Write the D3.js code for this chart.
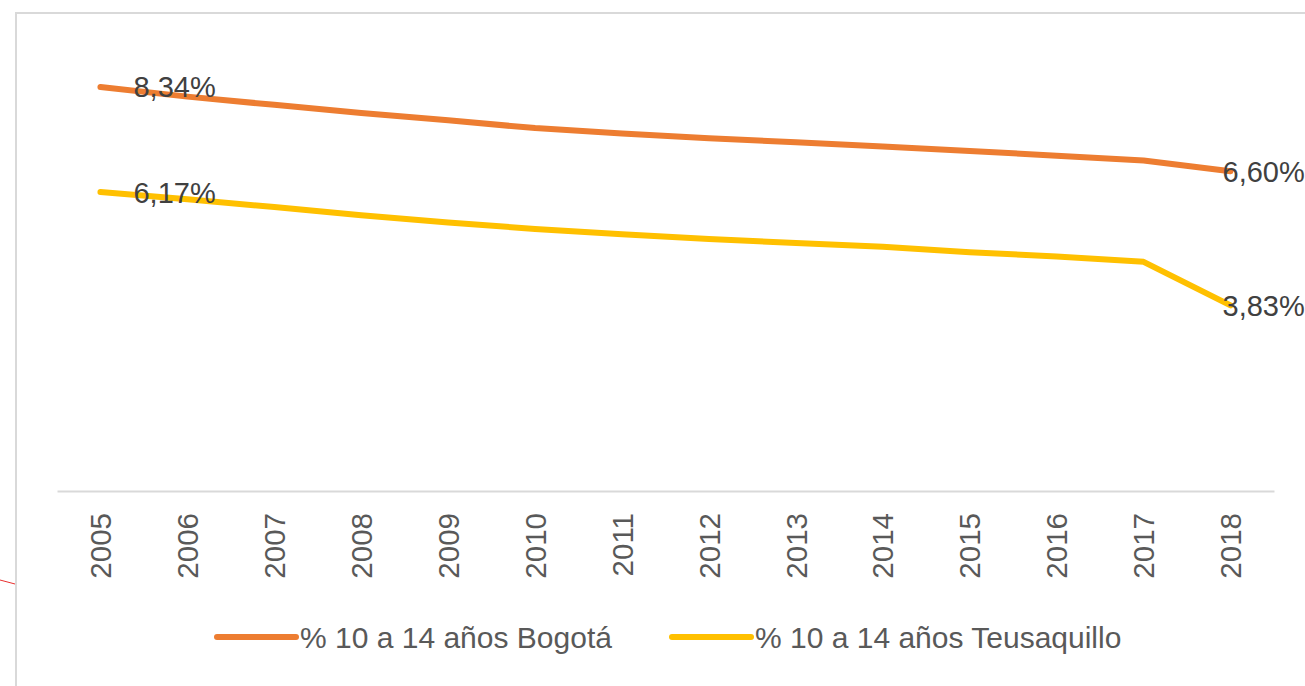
<!DOCTYPE html>
<html>
<head>
<meta charset="utf-8">
<script src="https://cdn.jsdelivr.net/npm/d3@7"></script>
<style>
  html, body { margin: 0; padding: 0; background: #ffffff; }
  svg { display: block; }
  text { font-family: "Liberation Sans", Arial, sans-serif; }
</style>
</head>
<body>
<svg id="chart" width="1305" height="686"></svg>
<script>
const years = ["2005","2006","2007","2008","2009","2010","2011","2012","2013","2014","2015","2016","2017","2018"];
const bogota = [8.34, 8.14, 7.97, 7.80, 7.65, 7.49, 7.38, 7.28, 7.20, 7.11, 7.02, 6.92, 6.82, 6.60];
const teusaquillo = [6.17, 6.02, 5.86, 5.69, 5.54, 5.41, 5.30, 5.20, 5.12, 5.04, 4.93, 4.84, 4.73, 3.83];
const seriesNames = ["% 10 a 14 años Bogotá", "% 10 a 14 años Teusaquillo"];
const seriesColors = ["#ED7D31", "#FFC000"];

const svg = d3.select("#chart");

// chart border
svg.append("rect")
  .attr("x", 16).attr("y", 13)
  .attr("width", 1320).attr("height", 700)
  .attr("fill", "none")
  .attr("stroke", "#d9d9d9")
  .attr("stroke-width", 2);

// small red stroke at left edge
svg.append("line")
  .attr("x1", 0).attr("y1", 580).attr("x2", 15).attr("y2", 584)
  .attr("stroke", "#e8302f").attr("stroke-width", 1);

const x = d3.scaleBand().domain(years).range([57, 1274]).padding(0);
const y = d3.scaleLinear().domain([0, 10]).range([491, 6.5]);
const cx = d => x(d) + x.bandwidth() / 2;

// x axis
const axis = svg.append("g")
  .attr("transform", "translate(0,491)")
  .call(d3.axisBottom(x).tickSize(0).tickSizeOuter(0));
axis.select(".domain").attr("stroke", "#d9d9d9").attr("stroke-width", 2);
axis.selectAll(".tick text")
  .attr("font-family", "Liberation Sans, Arial, sans-serif")
  .attr("font-size", 29.5)
  .attr("fill", "#595959")
  .attr("text-anchor", "end")
  .attr("transform", "translate(0,22) rotate(-90)")
  .attr("x", 0).attr("y", 0).attr("dy", "0.36em");

const line = d3.line()
  .x((d, i) => cx(years[i]))
  .y(d => y(d));

const allSeries = [bogota, teusaquillo];
allSeries.forEach((vals, si) => {
  svg.append("path")
    .datum(vals)
    .attr("d", line)
    .attr("fill", "none")
    .attr("stroke", seriesColors[si])
    .attr("stroke-width", 6)
    .attr("stroke-linecap", "round")
    .attr("stroke-linejoin", "round");
});

// data labels (first and last points)
const fmt = v => v.toFixed(2).replace(".", ",") + "%";
allSeries.forEach((vals, si) => {
  const last = vals.length - 1;
  [[0, 33], [last, -8]].forEach(([i, dx]) => {
    svg.append("text")
      .attr("x", cx(years[i]) + dx)
      .attr("y", y(vals[i]))
      .attr("dy", "0.36em")
      .attr("font-size", 29)
      .attr("fill", "#404040")
      .text(fmt(vals[i]));
  });
});

// legend
const legendX = [217, 672];
seriesNames.forEach((name, i) => {
  const g = svg.append("g").attr("transform", `translate(${legendX[i]},637)`);
  g.append("line")
    .attr("x1", 0).attr("x2", 79).attr("y1", 0).attr("y2", 0)
    .attr("stroke", seriesColors[i])
    .attr("stroke-width", 6)
    .attr("stroke-linecap", "round");
  g.append("text")
    .attr("x", 83).attr("y", 0).attr("dy", "0.36em")
    .attr("font-size", 30)
    .attr("fill", "#595959")
    .text(name);
});
</script>
</body>
</html>
